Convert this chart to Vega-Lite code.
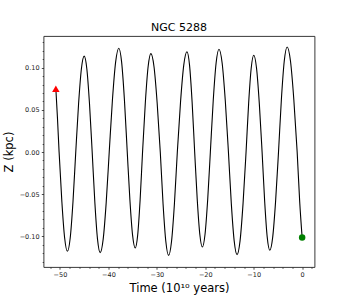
{
  "$schema": "https://vega.github.io/schema/vega-lite/v6.json",
  "width": 271,
  "height": 231,
  "autosize": "none",
  "padding": {"left": 43.5, "top": 36, "right": 35.5, "bottom": 33},
  "background": "white",
  "title": {"text": "NGC 5288", "fontSize": 11, "font": "DejaVu Sans", "fontWeight": "normal", "color": "black", "anchor": "middle", "frame": "group", "baseline": "alphabetic", "offset": -6},
  "config": {
    "view": {"stroke": "#222", "strokeWidth": 0.9},
    "axis": {"grid": false, "domain": false, "tickColor": "#222", "tickWidth": 0.8, "labelFont": "DejaVu Sans", "labelFontSize": 6.5, "labelColor": "#222", "titleFont": "DejaVu Sans", "titleFontSize": 11.5, "titleFontWeight": "normal", "titleColor": "black"}
  },
  "resolve": {"axis": {"x": "independent", "y": "independent"}},
  "layer": [
    {
      "data": {"values": [
        {"t": -50.85, "z": 0.075}, {"t": -50.52, "z": 0.0406}, {"t": -50.18, "z": 0.0},
        {"t": -49.607, "z": -0.0589}, {"t": -49.033, "z": -0.1020}, {"t": -48.46, "z": -0.1178},
        {"t": -47.887, "z": -0.1020}, {"t": -47.313, "z": -0.0589}, {"t": -46.74, "z": 0.0},
        {"t": -46.16, "z": 0.0569}, {"t": -45.58, "z": 0.0985}, {"t": -45.00, "z": 0.1137},
        {"t": -44.45, "z": 0.0985}, {"t": -43.90, "z": 0.0569}, {"t": -43.35, "z": 0.0},
        {"t": -42.80, "z": -0.0597}, {"t": -42.25, "z": -0.1034}, {"t": -41.70, "z": -0.1194},
        {"t": -41.077, "z": -0.1034}, {"t": -40.453, "z": -0.0597}, {"t": -39.83, "z": 0.0},
        {"t": -39.17, "z": 0.0616}, {"t": -38.51, "z": 0.1066}, {"t": -37.85, "z": 0.1231},
        {"t": -37.27, "z": 0.1066}, {"t": -36.69, "z": 0.0616}, {"t": -36.11, "z": 0.0},
        {"t": -35.56, "z": -0.0569}, {"t": -35.01, "z": -0.0986}, {"t": -34.46, "z": -0.1138},
        {"t": -33.957, "z": -0.0986}, {"t": -33.453, "z": -0.0569}, {"t": -32.95, "z": 0.0},
        {"t": -32.377, "z": 0.0584}, {"t": -31.803, "z": 0.1011}, {"t": -31.23, "z": 0.1167},
        {"t": -30.583, "z": 0.1011}, {"t": -29.937, "z": 0.0584}, {"t": -29.29, "z": 0.0},
        {"t": -28.717, "z": -0.0613}, {"t": -28.143, "z": -0.1062}, {"t": -27.57, "z": -0.1226},
        {"t": -26.97, "z": -0.1062}, {"t": -26.37, "z": -0.0613}, {"t": -25.77, "z": 0.0},
        {"t": -25.107, "z": 0.0595}, {"t": -24.443, "z": 0.1031}, {"t": -23.78, "z": 0.1190},
        {"t": -23.25, "z": 0.1031}, {"t": -22.72, "z": 0.0595}, {"t": -22.19, "z": 0.0},
        {"t": -21.66, "z": -0.0563}, {"t": -21.13, "z": -0.0975}, {"t": -20.60, "z": -0.1126},
        {"t": -20.05, "z": -0.0975}, {"t": -19.50, "z": -0.0563}, {"t": -18.95, "z": 0.0},
        {"t": -18.357, "z": 0.0610}, {"t": -17.763, "z": 0.1056}, {"t": -17.17, "z": 0.1219},
        {"t": -16.52, "z": 0.1056}, {"t": -15.87, "z": 0.0610}, {"t": -15.22, "z": 0.0},
        {"t": -14.627, "z": -0.0609}, {"t": -14.033, "z": -0.1054}, {"t": -13.44, "z": -0.1217},
        {"t": -12.82, "z": -0.1054}, {"t": -12.20, "z": -0.0609}, {"t": -11.58, "z": 0.0},
        {"t": -11.05, "z": 0.0574}, {"t": -10.52, "z": 0.0993}, {"t": -9.99, "z": 0.1147},
        {"t": -9.417, "z": 0.0993}, {"t": -8.843, "z": 0.0574}, {"t": -8.27, "z": 0.0},
        {"t": -7.74, "z": -0.0583}, {"t": -7.21, "z": -0.1010}, {"t": -6.68, "z": -0.1166},
        {"t": -6.08, "z": -0.1010}, {"t": -5.48, "z": -0.0583}, {"t": -4.88, "z": 0.0},
        {"t": -4.287, "z": 0.0623}, {"t": -3.693, "z": 0.1079}, {"t": -3.10, "z": 0.1246},
        {"t": -2.41, "z": 0.1079}, {"t": -1.72, "z": 0.0623}, {"t": -1.03, "z": 0.0},
        {"t": -0.515, "z": -0.0581}, {"t": 0.0, "z": -0.1015}
      ]},
      "mark": {"type": "line", "color": "black", "strokeWidth": 1.1, "interpolate": "monotone"},
      "encoding": {
        "x": {"field": "t", "type": "quantitative", "scale": {"domain": [-53.4, 2.55], "nice": false, "zero": false},
              "axis": {"orient": "bottom", "values": [-50, -40, -30, -20, -10, 0], "format": "d", "tickSize": 2.2, "labelPadding": 2.2, "title": "Time (10¹⁰ years)", "titlePadding": 5}},
        "y": {"field": "z", "type": "quantitative", "scale": {"domain": [-0.1364, 0.1376], "nice": false, "zero": false},
              "axis": {"orient": "left", "values": [-0.1, -0.05, 0, 0.05, 0.1], "format": ".2f", "tickSize": 2.2, "labelPadding": 2.2, "title": "Z (kpc)", "titlePadding": 4.5}},
        "order": {"field": "t", "type": "quantitative"}
      }
    },
    {
      "data": {"values": [
        {"t": -50.85, "z": 0.075, "kind": "start"},
        {"t": 0.0, "z": -0.1015, "kind": "end"}
      ]},
      "mark": {"type": "point", "filled": true, "opacity": 1},
      "encoding": {
        "x": {"field": "t", "type": "quantitative",
              "axis": {"orient": "bottom", "values": [-52, -48, -46, -44, -42, -38, -36, -34, -32, -28, -26, -24, -22, -18, -16, -14, -12, -8, -6, -4, -2, 2], "labels": false, "tickSize": 1.3, "title": null}},
        "y": {"field": "z", "type": "quantitative",
              "axis": {"orient": "left", "values": [-0.13, -0.12, -0.11, -0.09, -0.08, -0.07, -0.06, -0.04, -0.03, -0.02, -0.01, 0.01, 0.02, 0.03, 0.04, 0.06, 0.07, 0.08, 0.09, 0.11, 0.12, 0.13], "labels": false, "tickSize": 1.3, "title": null}},
        "shape": {"field": "kind", "type": "nominal", "scale": {"domain": ["start", "end"], "range": ["triangle-up", "circle"]}, "legend": null},
        "color": {"field": "kind", "type": "nominal", "scale": {"domain": ["start", "end"], "range": ["#ff0000", "#008000"]}, "legend": null},
        "size": {"field": "kind", "type": "nominal", "scale": {"domain": ["start", "end"], "range": [55, 42]}, "legend": null}
      }
    }
  ]
}
